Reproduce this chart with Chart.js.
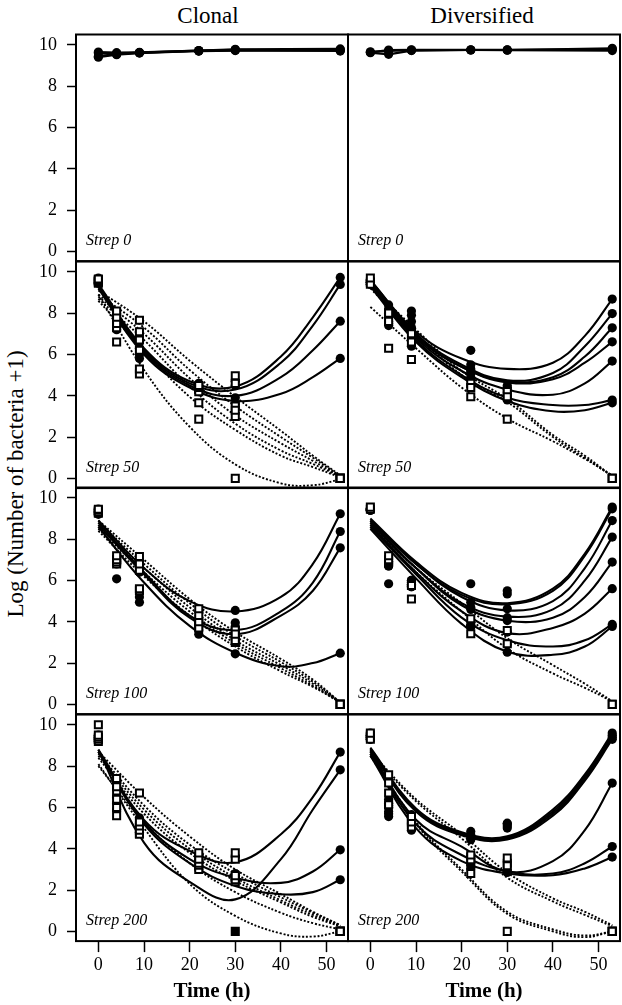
<!DOCTYPE html>
<html>
<head>
<meta charset="utf-8">
<title>Clonal vs Diversified</title>
<script src="https://cdn.jsdelivr.net/npm/chart.js@4.4.1/dist/chart.umd.min.js"></script>
<style>
  html, body { margin: 0; padding: 0; background: #fff; overflow: hidden; }
  #page { position: relative; width: 622px; height: 1005px; overflow: hidden; }
  #page canvas { position: absolute; }
  .lbl { position: absolute; font-family: 'Liberation Serif', 'Times New Roman', serif; color: #000;
         white-space: nowrap; line-height: 1; transform: translate(-50%, -50%); }
</style>
</head>
<body>
<div id="page">
  <div class="lbl" id="colTitle0" style="left:208px; top:15px; font-size:23px;"></div>
  <div class="lbl" id="colTitle1" style="left:482px; top:15px; font-size:23px;"></div>
  <div class="lbl" style="left:15px; top:484px; font-size:23px; transform: translate(-50%, -50%) rotate(-90deg);">Log (Number of bacteria +1)</div>
</div>
<script>
// ---------------------------------------------------------------------------
// Data read off the figure: sampling times, observations and fitted curves
// ---------------------------------------------------------------------------

const OBS_T = [0, 4, 9, 22, 30, 53];          // sampling times (h)
const FIT_T = [0, 10, 20, 30, 40, 47, 53];    // times where fitted curves were read
const X_TICKS = [0, 10, 20, 30, 40, 50];
const Y_TICKS = [0, 2, 4, 6, 8, 10];
const COLUMN_TITLES = ['Clonal', 'Diversified'];
const ROW_LABELS = ['Strep 0', 'Strep 50', 'Strep 100', 'Strep 200'];

// Strep 0 - replicate lines
const clonal0Obs = [
  [9.65, 9.62, 9.64, 9.72, 9.78, 9.8],
  [9.6, 9.58, 9.62, 9.7, 9.74, 9.76],
  [9.4, 9.52, 9.6, 9.7, 9.72, 9.72],
  [9.45, 9.55, 9.62, 9.72, 9.76, 9.7]
];
const divers0Obs = [
  [9.64, 9.75, 9.76, 9.75, 9.75, 9.83],
  [9.62, 9.54, 9.72, 9.75, 9.74, 9.72],
  [9.66, 9.7, 9.74, 9.76, 9.76, 9.78]
];

// Strep 50
const clonal50Surv = [
  [9.7, 7.9, 6.6, 4.6, 4.5, 9.73],
  [9.6, 7.6, 6.3, 4.5, 4.7, 9.39],
  [9.5, 7.4, 6.0, 4.3, 3.9, 7.61],
  [9.45, 7.2, 5.8, 4.2, 3.6, 5.81]
];
const clonal50Ext = [
  [9.65, 8.1, 7.66, 4.5, 4.97, 0],
  [9.6, 7.8, 7.1, 4.4, 4.6, 0],
  [9.55, 7.5, 6.7, 4.2, 3.3, 0],
  [9.5, 7.3, 6.2, 3.66, 3.0, 0],
  [9.45, 6.6, 5.3, 2.87, 3.5, 0],
  [9.6, 7.6, 5.05, 4.3, 0, 0]
];
const clonal50SurvFit = [
  [9.4, 6.3, 4.7, 4.45, 5.9, 7.8, 9.73],
  [9.3, 6.2, 4.6, 4.3, 5.6, 7.4, 9.39],
  [9.3, 6.1, 4.5, 4.0, 4.9, 6.2, 7.61],
  [9.2, 6.0, 4.4, 3.75, 4.1, 4.9, 5.81]
];
const clonal50ExtFit = [
  [9.1, 7.6, 5.7, 3.95, 2.3, 1.1, 0.15],
  [8.9, 7.3, 5.25, 3.5, 2.0, 1.0, 0.12],
  [8.8, 7.0, 4.85, 3.05, 1.7, 0.85, 0.1],
  [8.7, 6.7, 4.45, 2.65, 1.35, 0.7, 0.08],
  [8.6, 6.2, 3.95, 2.35, 1.1, 0.55, 0.05],
  [8.9, 5.25, 2.5, 0.68, -0.24, -0.33, -0.05]
];

const divers50Surv = [
  [9.6, 8.4, 8.1, 6.2, 4.5, 8.68],
  [9.6, 8.2, 7.9, 5.5, 4.4, 7.98],
  [9.5, 8.0, 7.6, 5.3, 4.3, 7.29],
  [9.5, 7.8, 7.3, 5.2, 4.2, 6.61],
  [9.4, 7.6, 7.0, 5.1, 4.0, 5.68],
  [9.5, 7.5, 6.7, 4.9, 3.9, 3.79],
  [9.4, 7.4, 6.4, 4.8, 3.8, 3.66]
];
const divers50Ext = [
  [9.7, 8.0, 7.0, 4.4, 3.95, 0],
  [9.4, 7.6, 5.76, 3.95, 4.2, 0],
  [9.5, 6.3, 6.6, 4.6, 2.87, 0]
];
const divers50SurvFit = [
  [9.6, 7.1, 5.8, 5.3, 5.6, 6.9, 8.68],
  [9.6, 7.0, 5.5, 4.75, 5.1, 6.4, 7.98],
  [9.5, 6.9, 5.4, 4.7, 4.9, 5.9, 7.29],
  [9.5, 6.9, 5.4, 4.65, 4.8, 5.6, 6.61],
  [9.4, 6.8, 5.2, 4.3, 4.05, 4.6, 5.68],
  [9.4, 6.7, 5.0, 3.9, 3.55, 3.55, 3.79],
  [9.3, 6.6, 4.9, 3.75, 3.25, 3.3, 3.66]
];
const divers50ExtFit = [
  [9.3, 7.2, 5.2, 3.85, 2.1, 1.1, 0.1],
  [9.2, 7.0, 5.0, 3.7, 2.0, 1.0, 0.1],
  [8.3, 6.3, 4.4, 2.9, 1.8, 0.95, 0.15]
];

// Strep 100
const clonal100Surv = [
  [9.45, 7.1, 6.7, 4.0, 4.55, 9.23],
  [9.3, 6.9, 6.4, 3.8, 3.95, 8.37],
  [9.2, 6.8, 5.2, 3.6, 3.75, 7.58],
  [9.35, 6.08, 4.95, 3.4, 2.45, 2.48]
];
const clonal100Ext = [
  [9.45, 7.2, 7.16, 4.63, 3.4, 0],
  [9.4, 7.0, 6.8, 4.3, 3.1, 0],
  [9.3, 6.9, 5.6, 4.0, 3.3, 0],
  [9.35, 6.8, 6.5, 3.7, 3.0, 0],
  [9.25, 7.0, 5.5, 3.9, 3.6, 0]
];
const clonal100SurvFit = [
  [8.9, 6.6, 5.0, 4.5, 5.2, 6.8, 9.23],
  [8.8, 6.4, 4.3, 3.6, 4.5, 5.9, 8.37],
  [8.7, 6.3, 4.2, 3.4, 4.3, 5.5, 7.58],
  [8.6, 5.9, 3.8, 2.5, 1.85, 2.0, 2.48]
];
const clonal100ExtFit = [
  [8.9, 7.0, 5.1, 3.5, 2.2, 1.2, 0.1],
  [8.8, 6.8, 4.9, 3.3, 2.05, 1.1, 0.1],
  [8.6, 6.6, 4.7, 3.1, 1.9, 1.0, 0.1],
  [8.5, 6.4, 4.5, 2.95, 1.75, 0.9, 0.1],
  [8.4, 6.2, 4.3, 2.8, 1.6, 0.85, 0.1]
];

const divers100Surv = [
  [9.5, 6.9, 6.0, 5.84, 5.5, 9.55],
  [9.5, 6.8, 5.9, 4.95, 5.35, 9.47],
  [9.45, 6.7, 5.8, 4.7, 4.63, 8.9],
  [9.45, 6.9, 5.7, 4.6, 4.06, 8.1],
  [9.4, 6.8, 6.0, 3.8, 4.2, 6.89],
  [9.4, 5.84, 5.7, 3.85, 3.5, 5.6],
  [9.45, 6.7, 5.8, 3.8, 2.9, 3.87],
  [9.4, 6.75, 5.75, 3.75, 2.53, 3.77]
];
const divers100Ext = [
  [9.55, 7.2, 5.76, 4.15, 3.58, 0],
  [9.45, 7.0, 5.1, 3.42, 2.94, 0]
];
const divers100SurvFit = [
  [9.0, 6.9, 5.4, 4.9, 5.6, 7.3, 9.55],
  [8.9, 6.8, 5.3, 4.85, 5.5, 7.2, 9.47],
  [8.9, 6.8, 5.2, 4.55, 5.0, 6.6, 8.9],
  [8.8, 6.6, 4.9, 4.25, 4.6, 6.0, 8.1],
  [8.8, 6.6, 4.8, 4.05, 4.2, 5.2, 6.89],
  [8.7, 6.4, 4.5, 3.45, 3.7, 4.4, 5.6],
  [8.6, 6.3, 4.2, 3.1, 2.8, 3.1, 3.87],
  [8.5, 6.1, 3.9, 2.55, 2.4, 2.8, 3.77]
];
const divers100ExtFit = [
  [8.7, 6.6, 4.9, 3.2, 1.9, 1.0, 0.15],
  [8.6, 6.4, 4.5, 2.7, 1.5, 0.8, 0.15]
];

// Strep 200
const clonal200Surv = [
  [9.5, 7.0, 5.5, 3.7, 3.6, 8.68],
  [9.3, 6.5, 5.2, 3.4, 2.8, 7.82],
  [9.4, 6.2, 5.0, 3.1, 2.5, 3.95],
  [9.2, 5.9, 4.8, 3.0, 2.6, 2.5]
];
const clonal200Ext = [
  [10.0, 7.4, 6.7, 3.8, 3.8, 0],
  [9.5, 7.0, 5.3, 3.5, 3.5, 0],
  [9.4, 6.8, 5.1, 3.3, 2.7, 0],
  [9.3, 6.4, 4.9, 3.2, 2.5, 0],
  [9.2, 5.6, 4.7, 3.0, 2.4, 0],
  [9.3, 6.0, 4.75, 3.6, 2.6, 0]
];
const clonal200SqT = [30];      // lone filled square
const clonal200SqV = [0];
const clonal200SurvFit = [
  [8.8, 5.4, 3.9, 3.35, 4.7, 6.5, 8.68],
  [8.8, 4.3, 2.4, 1.55, 3.5, 5.9, 7.82],
  [8.7, 5.3, 3.5, 2.6, 2.35, 2.9, 3.95],
  [8.7, 5.2, 3.3, 2.2, 1.8, 1.9, 2.5]
];
const clonal200ExtFit = [
  [8.7, 6.5, 4.6, 3.0, 1.8, 0.95, 0.3],
  [8.6, 6.1, 4.2, 2.8, 1.65, 0.9, 0.3],
  [8.5, 5.9, 4.0, 2.6, 1.5, 0.8, 0.25],
  [8.4, 5.7, 3.8, 2.45, 1.4, 0.7, 0.25],
  [8.0, 5.3, 3.3, 1.9, 0.9, 0.4, 0.1],
  [8.1, 5.0, 2.3, 0.75, -0.1, -0.25, 0.0]
];

const divers200Surv = [
  [9.6, 6.4, 5.65, 4.84, 5.24, 9.6],
  [9.5, 6.2, 5.5, 4.68, 5.1, 9.5],
  [9.4, 6.0, 5.3, 4.44, 5.2, 9.4],
  [9.4, 5.8, 5.2, 4.6, 5.0, 9.3],
  [9.5, 6.1, 5.0, 3.06, 2.9, 7.18],
  [9.3, 5.56, 4.9, 3.3, 2.95, 4.11],
  [9.3, 5.7, 5.1, 3.2, 2.85, 3.6]
];
const divers200Ext = [
  [9.6, 7.58, 5.56, 3.7, 3.55, 0],
  [9.3, 7.18, 5.3, 3.47, 3.18, 0],
  [9.5, 6.7, 5.05, 2.8, 0, 0],
  [9.4, 6.13, 5.4, 3.6, 3.3, 0]
];
const divers200SurvFit = [
  [8.9, 5.95, 4.8, 4.6, 5.9, 7.6, 9.6],
  [8.85, 5.9, 4.75, 4.55, 5.8, 7.5, 9.5],
  [8.8, 5.85, 4.7, 4.5, 5.7, 7.4, 9.4],
  [8.75, 5.8, 4.65, 4.45, 5.6, 7.3, 9.3],
  [8.7, 5.4, 4.1, 2.9, 3.4, 4.9, 7.18],
  [8.6, 5.2, 3.7, 2.9, 2.8, 3.3, 4.11],
  [8.5, 5.0, 3.4, 2.8, 2.72, 3.05, 3.6]
];
const divers200ExtFit = [
  [8.7, 6.4, 4.7, 2.85, 1.6, 0.95, 0.3],
  [8.6, 6.3, 4.5, 2.6, 1.45, 0.8, 0.25],
  [8.6, 5.3, 3.0, 0.95, 0.1, -0.2, 0.0],
  [8.5, 5.2, 2.9, 0.85, 0.0, -0.28, 0.0]
];

// ---------------------------------------------------------------------------
// Layout of the 4 x 2 grid (pixels)
// ---------------------------------------------------------------------------

const X_MIN = -4.9, X_MAX = 54.7;
const Y_MIN = -0.47, Y_MAX = 10.5;
const CANVAS_W = 350, CANVAS_H = 330;
const PAD_TOP = 34.5, PANEL_H = 226.6, AXIS_W = 76;
const AXIS_H = CANVAS_H - PAD_TOP - PANEL_H;
const COL_STEP = 272;
const SERIF = "'Liberation Serif', 'Times New Roman', serif";

document.getElementById('colTitle0').textContent = COLUMN_TITLES[0];
document.getElementById('colTitle1').textContent = COLUMN_TITLES[1];

const panels = [
  { col: 0, row: 0, joined: clonal0Obs },
  { col: 1, row: 0, joined: divers0Obs },
  { col: 0, row: 1, surv: clonal50Surv, ext: clonal50Ext, survFit: clonal50SurvFit, extFit: clonal50ExtFit },
  { col: 1, row: 1, surv: divers50Surv, ext: divers50Ext, survFit: divers50SurvFit, extFit: divers50ExtFit },
  { col: 0, row: 2, surv: clonal100Surv, ext: clonal100Ext, survFit: clonal100SurvFit, extFit: clonal100ExtFit },
  { col: 1, row: 2, surv: divers100Surv, ext: divers100Ext, survFit: divers100SurvFit, extFit: divers100ExtFit },
  { col: 0, row: 3, surv: clonal200Surv, ext: clonal200Ext, survFit: clonal200SurvFit, extFit: clonal200ExtFit,
    sqT: clonal200SqT, sqV: clonal200SqV },
  { col: 1, row: 3, surv: divers200Surv, ext: divers200Ext, survFit: divers200SurvFit, extFit: divers200ExtFit }
];

// frame around each panel + the italic "Strep" label
const panelDeco = {
  id: 'panelDeco',
  afterDraw(chart, args, opts) {
    const { ctx, chartArea: a } = chart;
    ctx.save();
    ctx.strokeStyle = '#000';
    ctx.lineWidth = 2;
    ctx.strokeRect(a.left, a.top, a.right - a.left, a.bottom - a.top);
    ctx.font = 'italic 16px ' + SERIF;
    ctx.fillStyle = '#000';
    ctx.textBaseline = 'alphabetic';
    ctx.fillText(opts.text, a.left + 10, a.bottom - 16);
    ctx.restore();
  }
};

function toXY(times, vals) {
  return times.map((t, i) => ({ x: t, y: vals[i] }));
}

function fitSet(vals, dotted) {
  return {
    data: toXY(FIT_T, vals),
    showLine: true,
    tension: 0.4,
    pointRadius: 0,
    borderColor: '#000',
    borderWidth: dotted ? 1.9 : 2.1,
    borderDash: dotted ? [2, 1.8] : [],
    order: dotted ? 5 : 4
  };
}

function circleSet(vals) {
  return {
    data: toXY(OBS_T, vals),
    showLine: false,
    pointStyle: 'circle',
    pointRadius: 4.6,
    backgroundColor: '#000',
    borderColor: '#000',
    borderWidth: 0,
    order: 2
  };
}

function squareSet(times, vals, filled) {
  return {
    data: toXY(times, vals),
    showLine: false,
    pointStyle: 'rect',
    pointRadius: 5,
    backgroundColor: filled ? '#000' : '#fff',
    borderColor: '#000',
    borderWidth: 2,
    order: 1
  };
}

function joinedSet(vals) {
  return {
    data: toXY(OBS_T, vals),
    showLine: true,
    tension: 0,
    borderColor: '#000',
    borderWidth: 2.2,
    pointStyle: 'circle',
    pointRadius: 4.6,
    backgroundColor: '#000',
    pointBorderWidth: 0
  };
}

panels.forEach(p => {
  const isLeft = p.col === 0;
  const isBottom = p.row === 3;
  let datasets = [];
  if (p.joined) {
    datasets = p.joined.map(joinedSet);
  } else {
    p.extFit.forEach(v => datasets.push(fitSet(v, true)));
    p.survFit.forEach(v => datasets.push(fitSet(v, false)));
    p.surv.forEach(v => datasets.push(circleSet(v)));
    p.ext.forEach(v => datasets.push(squareSet(OBS_T, v, false)));
    if (p.sqT) datasets.push(squareSet(p.sqT, p.sqV, true));
  }

  const canvas = document.createElement('canvas');
  canvas.width = CANVAS_W;
  canvas.height = CANVAS_H;
  canvas.style.left = (p.col * COL_STEP) + 'px';
  canvas.style.top = Math.round(p.row * PANEL_H) + 'px';
  document.getElementById('page').appendChild(canvas);

  new Chart(canvas.getContext('2d'), {
    type: 'scatter',
    data: { datasets: datasets },
    plugins: [panelDeco],
    options: {
      responsive: false,
      animation: false,
      events: [],
      layout: { autoPadding: false, padding: { top: PAD_TOP, right: 2, left: 0, bottom: 0 } },
      plugins: {
        legend: { display: false },
        tooltip: { enabled: false },
        panelDeco: { text: ROW_LABELS[p.row] }
      },
      scales: {
        x: {
          type: 'linear',
          min: X_MIN, max: X_MAX,
          afterBuildTicks: s => { s.ticks = X_TICKS.map(v => ({ value: v })); },
          afterFit: s => { s.height = AXIS_H; },
          ticks: { display: isBottom, color: '#000', font: { family: SERIF, size: 18 },
                   padding: 2, maxRotation: 0, autoSkip: false },
          grid: { display: isBottom, drawOnChartArea: false, drawTicks: true,
                  tickLength: 11, tickColor: '#000', tickWidth: 1.5 },
          border: { display: false },
          title: { display: isBottom, text: 'Time (h)', color: '#000',
                   font: { family: SERIF, size: 21, weight: 'bold' },
                   padding: { top: 0, bottom: 6 } }
        },
        y: {
          type: 'linear',
          min: Y_MIN, max: Y_MAX,
          afterBuildTicks: s => { s.ticks = Y_TICKS.map(v => ({ value: v })); },
          afterFit: s => { s.width = AXIS_W; },
          ticks: { display: isLeft, color: '#000', font: { family: SERIF, size: 18 }, padding: 10 },
          grid: { display: isLeft, drawOnChartArea: false, drawTicks: true,
                  tickLength: 9, tickColor: '#000', tickWidth: 1.5 },
          border: { display: false },
          title: { display: false }
        }
      }
    }
  });
});
</script>
</body>
</html>
